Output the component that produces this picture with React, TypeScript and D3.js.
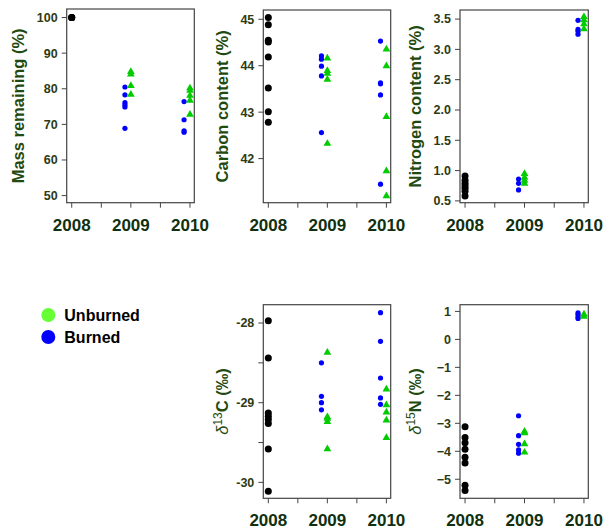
import React from 'react';
import * as d3 from 'd3';

// sampling years
const years = [2008, 2009, 2010];

// mass remaining (%)
const mass2008 = [100, 100, 100];
const massBurned2009 = [80.5, 78.3, 76.1, 75.5, 74.9, 68.9];
const massUnburned2009 = [85.0, 84.3, 81.1, 78.6];
const massBurned2010 = [76.4, 71.3, 68.2, 67.8];
const massUnburned2010 = [80.4, 79.7, 78.3, 76.9, 73.0];
const massTicks = [50, 60, 70, 80, 90, 100];

// carbon content (%)
const carbon2008 = [45.04, 44.88, 44.55, 44.51, 44.19, 43.52, 43.01, 42.78];
const carbonBurned2009 = [44.21, 44.14, 43.99, 43.78, 42.56];
const carbonUnburned2009 = [44.18, 43.91, 43.85, 43.72, 42.34];
const carbonBurned2010 = [44.53, 43.63, 43.61, 43.37, 41.45];
const carbonUnburned2010 = [44.37, 44.01, 42.92, 41.75, 41.21];
const carbonTicks = [42, 43, 44, 45];

// nitrogen content (%)
const nitrogen2008 = [0.91, 0.84, 0.79, 0.75, 0.71, 0.66, 0.58];
const nitrogenBurned2009 = [0.86, 0.79, 0.68];
const nitrogenUnburned2009 = [0.96, 0.9, 0.85, 0.8];
const nitrogenBurned2010 = [3.48, 3.33, 3.3, 3.25];
const nitrogenUnburned2010 = [3.55, 3.5, 3.43, 3.35];
const nitrogenTicks = [0.5, 1.0, 1.5, 2.0, 2.5, 3.0, 3.5];

// d13C (permil)
const d13C2008 = [-27.97, -28.44, -29.13, -29.17, -29.21, -29.26, -29.58, -30.11];
const d13CBurned2009 = [-28.5, -28.92, -29.0, -29.09];
const d13CUnburned2009 = [-28.36, -29.17, -29.19, -29.23, -29.57];
const d13CBurned2010 = [-27.87, -28.23, -28.69, -28.94, -29.02];
const d13CUnburned2010 = [-28.82, -29.02, -29.11, -29.21, -29.43];
const d13CTicks = [-30, -29.5, -29, -28.5, -28];

// d15N (permil)
const d15N2008 = [-3.12, -3.51, -3.69, -3.93, -4.21, -4.42, -5.21, -5.4];
const d15NBurned2009 = [-2.73, -3.44, -3.75, -3.95, -4.07];
const d15NUnburned2009 = [-3.26, -3.32, -3.71, -4.01];
const d15NBurned2010 = [0.95, 0.89, 0.81, 0.75];
const d15NUnburned2010 = [0.93, 0.85];
const d15NTicks = [-5, -4, -3, -2, -1, 0, 1];

const legendItems = ['Unburned', 'Burned'];

const FONT = 'Liberation Sans, Arial, sans-serif';
const TICK_COL = '#2e3a12';
const TITLE_COL = '#1f4a10';
const YEAR_COL = '#10300f';
const GREEN = '#00cc00';
const BLUE = '#0000ff';

type Panel = {
  key: string;
  box: [number, number, number, number]; // left, top, right, bottom
  yDomain: [number, number];
  ticks: number[];
  fmt: (v: number) => string;
  titleX: number;
  title: React.ReactNode;
  initial: number[];
  burned2009: number[];
  unburned2009: number[];
  burned2010: number[];
  unburned2010: number[];
};

const intFmt = (v: number) => (Number.isInteger(v) ? String(v) : '');

const panels: Panel[] = [
  {
    key: 'mass', box: [66.7, 9, 194.3, 202.7], yDomain: [48, 102.4],
    ticks: massTicks, fmt: d3.format('d'), titleX: 24,
    title: 'Mass remaining (%)',
    initial: mass2008, burned2009: massBurned2009, unburned2009: massUnburned2009,
    burned2010: massBurned2010, unburned2010: massUnburned2010,
  },
  {
    key: 'carbon', box: [263.3, 10, 390.7, 202.7], yDomain: [41.05, 45.2],
    ticks: carbonTicks, fmt: d3.format('d'), titleX: 228,
    title: 'Carbon content (%)',
    initial: carbon2008, burned2009: carbonBurned2009, unburned2009: carbonUnburned2009,
    burned2010: carbonBurned2010, unburned2010: carbonUnburned2010,
  },
  {
    key: 'nitrogen', box: [460, 10, 588.3, 202.7], yDomain: [0.47, 3.65],
    ticks: nitrogenTicks, fmt: d3.format('.1f'), titleX: 421,
    title: 'Nitrogen content (%)',
    initial: nitrogen2008, burned2009: nitrogenBurned2009, unburned2009: nitrogenUnburned2009,
    burned2010: nitrogenBurned2010, unburned2010: nitrogenUnburned2010,
  },
  {
    key: 'd13c', box: [263.3, 304.7, 390.7, 498.3], yDomain: [-30.2, -27.77],
    ticks: d13CTicks, fmt: intFmt, titleX: 228,
    title: (
      <>
        <tspan fontStyle="italic" fontWeight="normal">δ</tspan>
        <tspan dy={-6} fontSize={12} fontWeight="normal">13</tspan>
        <tspan dy={6}>C (‰)</tspan>
      </>
    ),
    initial: d13C2008, burned2009: d13CBurned2009, unburned2009: d13CUnburned2009,
    burned2010: d13CBurned2010, unburned2010: d13CUnburned2010,
  },
  {
    key: 'd15n', box: [460, 304.7, 588.3, 498.3], yDomain: [-5.68, 1.24],
    ticks: d15NTicks, fmt: d3.format('d'), titleX: 421,
    title: (
      <>
        <tspan fontStyle="italic" fontWeight="normal">δ</tspan>
        <tspan dy={-6} fontSize={12} fontWeight="normal">15</tspan>
        <tspan dy={6}>N (‰)</tspan>
      </>
    ),
    initial: d15N2008, burned2009: d15NBurned2009, unburned2009: d15NUnburned2009,
    burned2010: d15NBurned2010, unburned2010: d15NUnburned2010,
  },
];

const triangle = d3.symbol(d3.symbolTriangle, 26)();

const PanelView = ({ p }: { p: Panel }) => {
  const [l, t, r, b] = p.box;
  const x = d3.scaleLinear().domain([2007.915, 2010.073]).range([l, r]);
  const y = d3.scaleLinear().domain(p.yDomain).range([b, t]);
  const midTicks = d3.pairs(years).map(([a, c]) => (a + c) / 2);
  const dodge = 0.1;
  const burned = [
    ...p.burned2009.map((v) => [2009 - dodge, v]),
    ...p.burned2010.map((v) => [2010 - dodge, v]),
  ];
  const unburned = [
    ...p.unburned2009.map((v) => [2009, v]),
    ...p.unburned2010.map((v) => [2010, v]),
  ];
  const cy = (t + b) / 2;
  return (
    <g>
      <rect x={l} y={t} width={r - l} height={b - t} fill="none" stroke="#444" strokeWidth={1.2} />
      {p.ticks.map((v) => (
        <g key={v}>
          <line x1={l - 5} x2={l} y1={y(v)} y2={y(v)} stroke="#444" />
          <text x={l - 9} y={y(v)} dy="0.35em" textAnchor="end" fontSize={12.5}
            fontWeight="bold" fill={TICK_COL}>{p.fmt(v)}</text>
        </g>
      ))}
      {[...years, ...midTicks].map((v) => (
        <line key={v} x1={x(v)} x2={x(v)} y1={b} y2={b + 5} stroke="#444" />
      ))}
      {years.map((v) => (
        <text key={v} x={x(v)} y={b + 28} textAnchor="middle" fontSize={17}
          fontWeight="bold" fill={YEAR_COL}>{v}</text>
      ))}
      <text transform={`translate(${p.titleX},${cy}) rotate(-90)`} textAnchor="middle"
        fontSize={16.5} fontWeight="bold" fill={TITLE_COL}>{p.title}</text>
      {p.initial.map((v, i) => (
        <circle key={'k' + i} cx={x(2008)} cy={y(v)} r={3.5} fill="black" />
      ))}
      {burned.map(([yr, v], i) => (
        <circle key={'b' + i} cx={x(yr)} cy={y(v)} r={2.6} fill={BLUE} />
      ))}
      {unburned.map(([yr, v], i) => (
        <path key={'u' + i} d={triangle} transform={`translate(${x(yr)},${y(v) + 0.8})`} fill={GREEN} />
      ))}
    </g>
  );
};

export default function App() {
  const legendColors = ['#66ff33', BLUE];
  return (
    <svg width={603} height={531} style={{ position: 'absolute', left: 0, top: 0 }}
      fontFamily={FONT}>
      <rect width={603} height={531} fill="white" />
      {panels.map((p) => <PanelView key={p.key} p={p} />)}
      {legendItems.map((name, i) => (
        <g key={name} transform={`translate(48.3,${315 + i * 22})`}>
          <circle r={7} fill={legendColors[i]} />
          <text x={16} dy="0.35em" fontSize={16} fontWeight="bold" fill="black">{name}</text>
        </g>
      ))}
    </svg>
  );
}
